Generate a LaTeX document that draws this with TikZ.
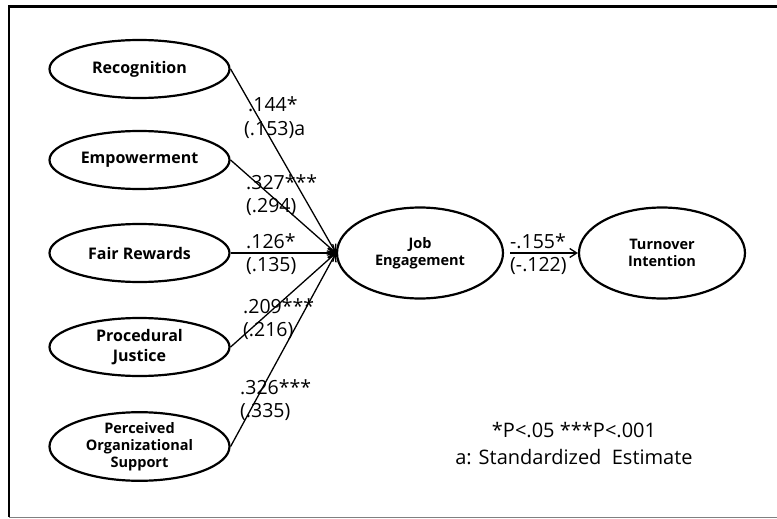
\documentclass[tikz,border=0pt]{standalone}
\usepackage{fontspec}
\setmainfont{Open Sans}
\usetikzlibrary{arrows.meta,shapes.geometric}
\begin{document}
\begin{tikzpicture}[x=1pt,y=-1pt,
  var/.style={draw,ellipse,line width=2.2pt,inner sep=0pt,align=center,
    minimum width=180pt,minimum height=58pt,font=\fontsize{16}{20}\selectfont\bfseries},
  bigvar/.style={var,minimum width=166pt,minimum height=91pt,font=\fontsize{14.5}{17.5}\selectfont\bfseries},
  path/.style={line width=1.3pt,-{Straight Barb[length=7pt,width=9pt,line width=1.3pt]}},
  coef/.style={anchor=west,inner sep=0pt,align=left,font=\fontsize{19.5}{23.5}\selectfont}]
\useasboundingbox (0,0) rectangle (777,519);
\fill[white] (0,0) rectangle (777,519);
\draw[line width=2.5pt] (800,6.5) -- (9,6.5) -- (9,517);
\draw[line width=1.5pt,gray] (9,517.5) -- (800,517.5);

\node[var] (rec) at (139.5,69) {Recognition};
\node[var] (emp) at (139.5,160) {Empowerment};
\node[var] (fr) at (139.5,253) {Fair Rewards};
\node[var] (pj) at (139.5,347) {Procedural\\Justice};
\node[var,font=\fontsize{14.5}{17}\selectfont\bfseries] (pos) at (139.5,446.5) {Perceived\\Organizational\\Support};
\node[bigvar] (je) at (420,253) {Job\\Engagement};
\node[bigvar] (ti) at (662,253) {Turnover\\Intention};

\draw[path] (rec.east) -- (je.west);
\draw[path] (emp.east) -- (je.west);
\draw[path] (fr.east) -- (je.west);
\draw[path] (pj.east) -- (je.west);
\draw[path] (pos.east) -- (je.west);
\draw[path] ([xshift=6pt]je.east) -- (ti.west);

\node[coef] (c1) at (244,117.5) {\hspace*{4pt}.144*\\(.153)a};
\node[coef] (c2) at (246,195) {.327***\\(.294)};
\node[coef] (c3) at (246,254) {.126*\\(.135)};
\node[coef] (c4) at (243,319) {.209***\\(.216)};
\node[coef] (c5) at (240,400) {.326***\\(.335)};
\node[coef] (c6) at (510,254) {-.155*\\(-.122)};

\node[inner sep=0pt,align=center,font=\fontsize{20}{27}\selectfont] (leg) at (574,443.5) {*P<.05 ***P<.001\\a: Standardized\ \ Estimate};
\end{tikzpicture}
\end{document}
